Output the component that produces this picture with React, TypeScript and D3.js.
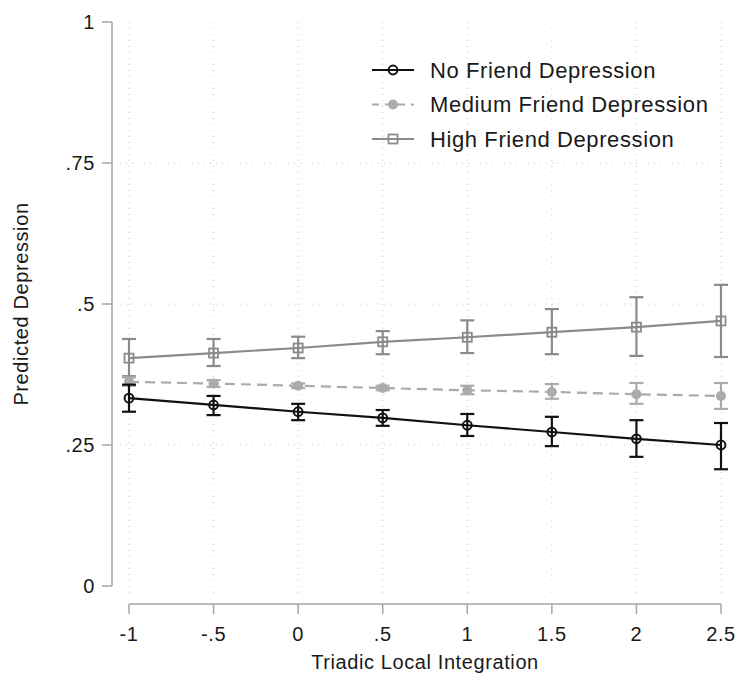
import * as d3 from "d3";

const WIDTH = 739;
const HEIGHT = 675;
const MARGIN = { top: 22, right: 18, bottom: 89, left: 129 };

const xValues = [-1, -0.5, 0, 0.5, 1, 1.5, 2, 2.5];
const xTickLabels = ["-1", "-.5", "0", ".5", "1", "1.5", "2", "2.5"];
const yTicks = [0, 0.25, 0.5, 0.75, 1];
const yTickLabels = ["0", ".25", ".5", ".75", "1"];

const noFriend = [0.333, 0.321, 0.309, 0.298, 0.285, 0.273, 0.261, 0.25];
const noFriendLow = [0.309, 0.303, 0.294, 0.284, 0.266, 0.248, 0.229, 0.207];
const noFriendHigh = [0.357, 0.337, 0.323, 0.312, 0.305, 0.3, 0.294, 0.289];

const mediumFriend = [0.362, 0.359, 0.355, 0.351, 0.347, 0.344, 0.34, 0.337];
const mediumFriendLow = [0.355, 0.353, 0.351, 0.347, 0.34, 0.332, 0.323, 0.314];
const mediumFriendHigh = [0.37, 0.365, 0.359, 0.355, 0.355, 0.358, 0.36, 0.36];

const highFriend = [0.404, 0.413, 0.422, 0.433, 0.441, 0.45, 0.459, 0.47];
const highFriendLow = [0.372, 0.39, 0.404, 0.411, 0.413, 0.411, 0.408, 0.406];
const highFriendHigh = [0.438, 0.438, 0.442, 0.452, 0.471, 0.491, 0.512, 0.534];

const legendLabels = ["No Friend Depression", "Medium Friend Depression", "High Friend Depression"];

const FONT = "'Liberation Sans', Arial, sans-serif";
const TEXT_COLOR = "#1a1a1a";

type Series = {
  name: string;
  values: number[];
  low: number[];
  high: number[];
  color: string;
  dash?: string;
  marker: "hollowCircle" | "dot" | "square";
};

const series: Series[] = [
  { name: legendLabels[2], values: highFriend, low: highFriendLow, high: highFriendHigh, color: "#8a8a8a", marker: "square" },
  { name: legendLabels[1], values: mediumFriend, low: mediumFriendLow, high: mediumFriendHigh, color: "#ababab", dash: "10 6", marker: "dot" },
  { name: legendLabels[0], values: noFriend, low: noFriendLow, high: noFriendHigh, color: "#111111", marker: "hollowCircle" },
];

function Marker({ kind, cx, cy, color }: { kind: Series["marker"]; cx: number; cy: number; color: string }) {
  if (kind === "square") {
    return <rect x={cx - 4.5} y={cy - 4.5} width={9} height={9} fill="none" stroke={color} strokeWidth={1.8} />;
  }
  if (kind === "dot") {
    return <circle cx={cx} cy={cy} r={5} fill={color} />;
  }
  return <circle cx={cx} cy={cy} r={4.4} fill="none" stroke={color} strokeWidth={2} />;
}

export default function App() {
  const x = d3.scaleLinear().domain([-1, 2.5]).range([MARGIN.left, WIDTH - MARGIN.right]);
  const y = d3.scaleLinear().domain([0, 1]).range([586, MARGIN.top]);

  const axisX = 112;
  const axisY = 604;
  const axisColor = "#a6a6a6";
  const gridColor = "#c8c8c8";

  const line = d3
    .line<number>()
    .x((_, i) => x(xValues[i]))
    .y((v) => y(v));

  const legendRows = [
    { label: legendLabels[0], s: series[2] },
    { label: legendLabels[1], s: series[1] },
    { label: legendLabels[2], s: series[0] },
  ];

  const textProps = { fontFamily: FONT, fill: TEXT_COLOR, letterSpacing: 0.6 };

  return (
    <div style={{ position: "absolute", left: 0, top: 0 }}>
      <svg width={WIDTH} height={HEIGHT} viewBox={`0 0 ${WIDTH} ${HEIGHT}`} style={{ display: "block", background: "#fff" }}>
        {/* grid */}
        {xValues.map((v) => (
          <line key={`gx${v}`} x1={x(v)} x2={x(v)} y1={y(1)} y2={axisY - 8} stroke={gridColor} strokeWidth={1} strokeDasharray="1 5" />
        ))}
        {[0.25, 0.5, 0.75].map((v) => (
          <line key={`gy${v}`} x1={axisX + 8} x2={x(2.5) + 4} y1={y(v)} y2={y(v)} stroke={gridColor} strokeWidth={1} strokeDasharray="1 5" />
        ))}

        {/* y axis */}
        <line x1={axisX} x2={axisX} y1={y(1)} y2={y(0)} stroke={axisColor} strokeWidth={1.5} />
        {yTicks.map((v, i) => (
          <g key={`yt${v}`}>
            <line x1={axisX - 10} x2={axisX} y1={y(v)} y2={y(v)} stroke={axisColor} strokeWidth={1.5} />
            <text x={axisX - 17} y={y(v)} dy="0.35em" textAnchor="end" fontSize={20} {...textProps}>
              {yTickLabels[i]}
            </text>
          </g>
        ))}
        <text transform={`translate(${28},${y(0.5)}) rotate(-90)`} textAnchor="middle" fontSize={20} {...textProps}>
          Predicted Depression
        </text>

        {/* x axis */}
        <line x1={x(-1)} x2={x(2.5)} y1={axisY} y2={axisY} stroke={axisColor} strokeWidth={1.5} />
        {xValues.map((v, i) => (
          <g key={`xt${v}`}>
            <line x1={x(v)} x2={x(v)} y1={axisY} y2={axisY + 10} stroke={axisColor} strokeWidth={1.5} />
            <text x={x(v)} y={axisY + 37} textAnchor="middle" fontSize={20} {...textProps}>
              {xTickLabels[i]}
            </text>
          </g>
        ))}
        <text x={(x(-1) + x(2.5)) / 2} y={669} textAnchor="middle" fontSize={20} {...textProps}>
          Triadic Local Integration
        </text>

        {/* series */}
        {series.map((s) => (
          <g key={s.name}>
            {xValues.map((v, i) => (
              <g key={`e${v}`} stroke={s.color} strokeWidth={2.2}>
                <line x1={x(v)} x2={x(v)} y1={y(s.low[i])} y2={y(s.high[i])} />
                <line x1={x(v) - 7} x2={x(v) + 7} y1={y(s.low[i])} y2={y(s.low[i])} />
                <line x1={x(v) - 7} x2={x(v) + 7} y1={y(s.high[i])} y2={y(s.high[i])} />
              </g>
            ))}
            <path d={line(s.values) ?? ""} fill="none" stroke={s.color} strokeWidth={2.2} strokeDasharray={s.dash} />
            {xValues.map((v, i) => (
              <Marker key={`m${v}`} kind={s.marker} cx={x(v)} cy={y(s.values[i])} color={s.color} />
            ))}
          </g>
        ))}

        {/* legend */}
        {legendRows.map((r, i) => {
          const ly = 70 + i * 34.5;
          return (
            <g key={r.label}>
              <line x1={372} x2={414} y1={ly} y2={ly} stroke={r.s.color} strokeWidth={2.2} strokeDasharray={r.s.dash ? "7 6" : undefined} />
              <Marker kind={r.s.marker} cx={393} cy={ly} color={r.s.color} />
              <text x={430} y={ly} dy="0.35em" fontSize={22} {...textProps}>
                {r.label}
              </text>
            </g>
          );
        })}
      </svg>
    </div>
  );
}
